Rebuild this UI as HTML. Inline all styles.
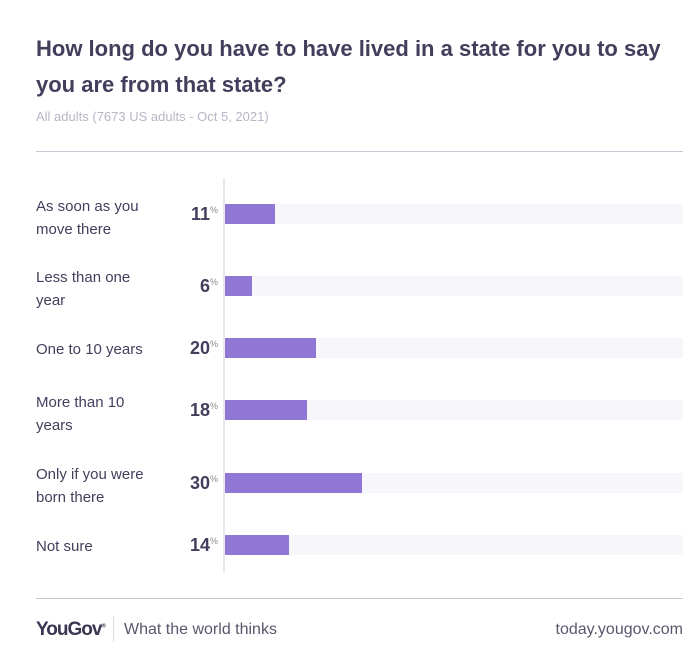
<!DOCTYPE html>
<html><head><style>
body{margin:0;width:700px;height:668px;background:#fff;font-family:"Liberation Sans",sans-serif;position:relative;overflow:hidden}
.a{position:absolute}
.t{left:36px;top:31px;font-size:22px;font-weight:bold;color:#433e5b;line-height:36px;width:650px}
.s{left:36px;top:109px;font-size:13px;color:#b8b5c6}
.rule{left:36px;width:647px;height:1px;background:#c9c7d3}
.lab{left:36px;font-size:15px;color:#433e5b;line-height:23px}
.num{font-size:18px;font-weight:bold;color:#433e5b;width:60px;text-align:right;left:158px;line-height:20px}
.num span{font-size:9px;font-weight:normal;color:#888;position:relative;top:-7px}
.trk{left:225px;width:458px;height:20px;background:#f7f6fb}
.bar{left:225px;height:20px;background:#9077d6}
</style></head><body>
<div class="a t">How long do you have to have lived in a state for you to say you are from that state?</div>
<div class="a s">All adults (7673 US adults - Oct 5, 2021)</div>
<div class="a rule" style="top:151px"></div>
<div class="a" style="left:223px;top:178px;width:2px;height:394px;background:#e8e6f0"></div>

<div class="a lab" style="top:195px">As soon as you<br>move there</div>
<div class="a num" style="top:204px">11<span>%</span></div>
<div class="a trk" style="top:204px"></div><div class="a bar" style="top:204px;width:50px"></div>

<div class="a lab" style="top:266px">Less than one<br>year</div>
<div class="a num" style="top:276px">6<span>%</span></div>
<div class="a trk" style="top:276px"></div><div class="a bar" style="top:276px;width:27px"></div>

<div class="a lab" style="top:338px">One to 10 years</div>
<div class="a num" style="top:338px">20<span>%</span></div>
<div class="a trk" style="top:338px"></div><div class="a bar" style="top:338px;width:91px"></div>

<div class="a lab" style="top:391px">More than 10<br>years</div>
<div class="a num" style="top:400px">18<span>%</span></div>
<div class="a trk" style="top:400px"></div><div class="a bar" style="top:400px;width:82px"></div>

<div class="a lab" style="top:463px">Only if you were<br>born there</div>
<div class="a num" style="top:473px">30<span>%</span></div>
<div class="a trk" style="top:473px"></div><div class="a bar" style="top:473px;width:137px"></div>

<div class="a lab" style="top:535px">Not sure</div>
<div class="a num" style="top:535px">14<span>%</span></div>
<div class="a trk" style="top:535px"></div><div class="a bar" style="top:535px;width:64px"></div>

<div class="a rule" style="top:598px"></div>
<div class="a" style="left:36px;top:619px;font-size:19px;font-weight:bold;color:#3a3550;letter-spacing:-1px">YouGov<sup style="font-size:6px">®</sup></div>
<div class="a" style="left:113px;top:616px;width:1px;height:26px;background:#ddd"></div>
<div class="a" style="left:124px;top:621px;font-size:16px;color:#5a566c">What the world thinks</div>
<div class="a" style="right:17px;top:621px;font-size:16px;color:#5a566c">today.yougov.com</div>
</body></html>
